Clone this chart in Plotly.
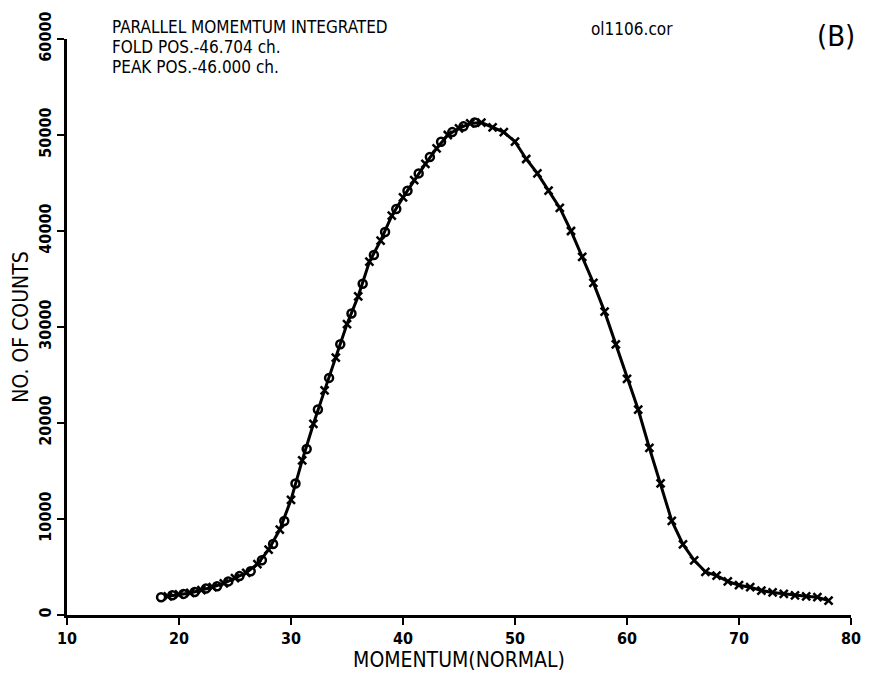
import plotly.graph_objects as go

# Measured data (crosses, connected by line)
x_cross = [19, 20, 21, 22, 23, 24, 25, 26, 27, 28, 29, 30, 31, 32, 33, 34, 35, 36, 37, 38,
           39, 40, 41, 42, 43, 44, 45, 46, 47, 48, 49, 50, 51, 52, 53, 54, 55, 56, 57, 58,
           59, 60, 61, 62, 63, 64, 65, 66, 67, 68, 69, 70, 71, 72, 73, 74, 75, 76, 77, 78]
y_cross = [1950, 2150, 2300, 2600, 2900, 3300, 3850, 4400, 5300, 6800,
           8900, 12000, 16100, 19900, 23400, 26800, 30300, 33200, 36800, 39000,
           41600, 43500, 45300, 47000, 48600, 50000, 50700, 51200, 51300, 50800,
           50300, 49300, 47500, 46000, 44200, 42400, 40000, 37300, 34600, 31600,
           28200, 24600, 21400, 17400, 13700, 9800, 7350, 5700, 4500, 4100,
           3500, 3100, 2900, 2550, 2350, 2200, 2050, 1950, 1850, 1500]

# Folded data (open circles)
x_fold = [18.4, 19.4, 20.4, 21.4, 22.4, 23.4, 24.4, 25.4, 26.4, 27.4, 28.4, 29.4, 30.4,
          31.4, 32.4, 33.4, 34.4, 35.4, 36.4, 37.4, 38.4, 39.4, 40.4, 41.4, 42.4, 43.4,
          44.4, 45.4, 46.4]
y_fold = [1850, 2050, 2200, 2400, 2750, 3000, 3500, 4050, 4550, 5700, 7400, 9800, 13700,
          17300, 21400, 24700, 28200, 31400, 34500, 37500, 39900, 42300, 44200, 46000,
          47700, 49300, 50300, 50900, 51300]

x_ticks = [10, 20, 30, 40, 50, 60, 70, 80]
y_ticks = [0, 10000, 20000, 30000, 40000, 50000, 60000]

FONT = "DejaVu Sans Condensed, Liberation Sans Narrow, Roboto, sans-serif"

fig = go.Figure()
fig.add_trace(go.Scatter(
    x=x_fold, y=y_fold, mode="markers",
    marker=dict(symbol="circle-open", size=8, color="black", line=dict(width=2.5, color="black")),
    showlegend=False, hoverinfo="skip"))
fig.add_trace(go.Scatter(
    x=x_cross, y=y_cross, mode="lines+markers",
    line=dict(color="black", width=3),
    marker=dict(symbol="x-thin", size=8, color="black", line=dict(width=2.5, color="black")),
    showlegend=False))

L, R, T, B = 67, 13, 39, 59
W, H = 873, 679
pw, ph = W - L - R, H - T - B

def px(xp):
    return (xp - L) / pw

def py(yp):
    return (H - B - yp) / ph

ann = [
    ("PARALLEL MOMEMTUM INTEGRATED", 110, 27, "left", 17),
    ("FOLD POS.-46.704 ch.", 110, 47, "left", 17),
    ("PEAK POS.-46.000 ch.", 110, 67, "left", 17),
    ("ol1106.cor", 595, 29, "left", 17),
    ("(B)", 866, 36, "right", 29),
]
annotations = []
for text, xp, yp, anchor, size in ann:
    annotations.append(dict(
        text=text, x=px(xp), y=py(yp), xref="paper", yref="paper",
        xanchor=anchor, yanchor="middle", showarrow=False,
        font=dict(family=FONT, size=size, color="black")))

fig.update_layout(
    width=W, height=H,
    margin=dict(l=L, r=R, t=T, b=B, pad=0),
    paper_bgcolor="white", plot_bgcolor="white",
    annotations=annotations,
    xaxis=dict(
        range=[10, 80], tickvals=x_ticks, ticktext=[str(v) for v in x_ticks],
        showline=True, linecolor="black", linewidth=2.5, mirror=False,
        ticks="outside", ticklen=7, tickwidth=2, tickcolor="black",
        showgrid=False, zeroline=False,
        tickfont=dict(family=FONT, size=16, color="black", weight="bold"),
        title=dict(text="MOMENTUM(NORMAL)", font=dict(family=FONT, size=21, color="black"), standoff=4),
    ),
    yaxis=dict(
        range=[0, 60000], tickvals=y_ticks, ticktext=[str(v) for v in y_ticks],
        showline=True, linecolor="black", linewidth=2.5, mirror=False,
        ticks="outside", ticklen=7, tickwidth=2, tickcolor="black",
        showgrid=False, zeroline=False, tickangle=-90,
        tickfont=dict(family=FONT, size=16, color="black", weight="bold"),
        title=dict(text="NO. OF COUNTS", font=dict(family=FONT, size=21, color="black"), standoff=2),
    ),
)

fig.write_html("out.html")
